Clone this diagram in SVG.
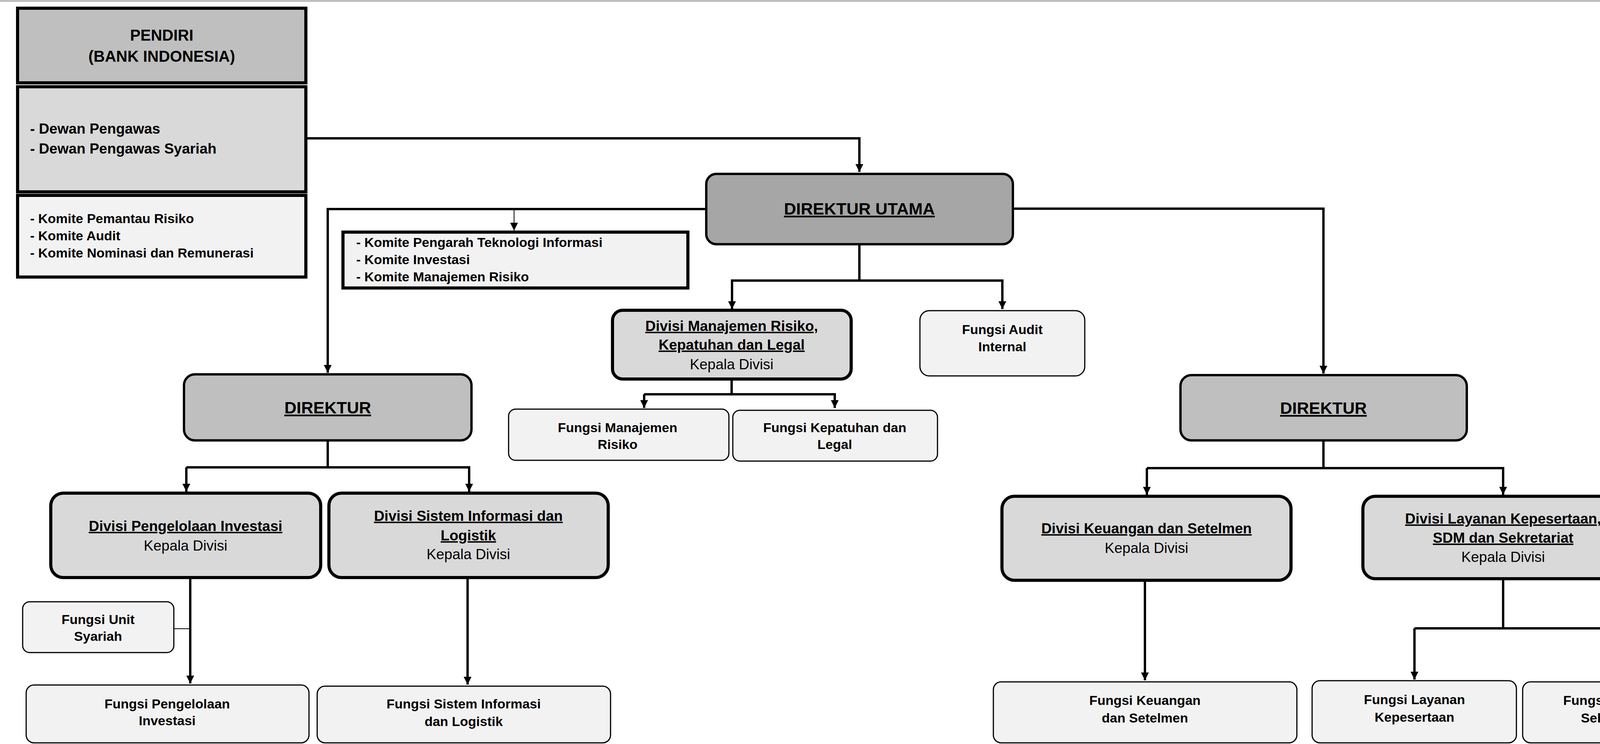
<svg xmlns="http://www.w3.org/2000/svg" width="4377" height="1904" viewBox="0 0 4377 1904">
<style>
text{font-family:"Liberation Sans",Arial,sans-serif;text-anchor:middle;fill:#000}
.b{font-weight:bold}
.u{text-decoration:underline}
.l{text-anchor:start}
.sq{stroke:#000;stroke-width:8}
.dv{fill:#d9d9d9;stroke:#000;stroke-width:8}
.dr{fill:#bfbfbf;stroke:#000;stroke-width:6}
.fg{fill:#f2f2f2;stroke:#000;stroke-width:3}
.c{fill:none;stroke:#000;stroke-width:6}
.t{fill:none;stroke:#000;stroke-width:2}
</style>
<defs>
<marker id="a" viewBox="0 0 10 10" refX="10" refY="5" markerWidth="5" markerHeight="6" markerUnits="userSpaceOnUse" orient="auto" overflow="visible"><path d="M0,0 L10,5 L0,10 z" fill="#000" transform="scale(1)"/></marker>
<marker id="A" viewBox="0 0 10 10" refX="10" refY="5" markerWidth="30" markerHeight="20" markerUnits="userSpaceOnUse" orient="auto"><path d="M0,0 L10,5 L0,10 z" fill="#000"/></marker>
</defs>
<rect width="4377" height="1904" fill="#fff"/>
<rect x="0" y="0" width="4168" height="5" fill="#c0c0c0"/>

<g id="connectors">
<path class="c" d="M783,354 H2200 V440" marker-end="url(#A)"/>
<path class="c" d="M1808,535 H839 V954" marker-end="url(#A)"/>
<path class="t" d="M1316,535 V590" marker-end="url(#A)"/>
<path class="c" d="M2593,534 H3388 V956" marker-end="url(#A)"/>
<path class="c" d="M2200,625 V718"/>
<path class="c" d="M1874,791 V718 H2566 V791" marker-end="url(#A)"/>
<path class="c" d="M1874,718 V791" marker-end="url(#A)"/>
<path class="c" d="M1873,970 V1009"/>
<path class="c" d="M1649,1009 H2137 V1044" marker-end="url(#A)"/>
<path class="c" d="M1649,1009 V1044" marker-end="url(#A)"/>
<path class="c" d="M839,1127 V1196"/>
<path class="c" d="M477,1196 H1201 V1258" marker-end="url(#A)"/>
<path class="c" d="M477,1196 V1258" marker-end="url(#A)"/>
<path class="c" d="M487,1478 V1749" marker-end="url(#A)"/>
<path class="t" d="M445,1609 H487"/>
<path class="c" d="M1197,1478 V1752" marker-end="url(#A)"/>
<path class="c" d="M3388,1127 V1198"/>
<path class="c" d="M2936,1198 H3848 V1266" marker-end="url(#A)"/>
<path class="c" d="M2936,1198 V1266" marker-end="url(#A)"/>
<path class="c" d="M2931,1485 V1741" marker-end="url(#A)"/>
<path class="c" d="M3848,1481 V1608"/>
<path class="c" d="M3621,1608 H4136 V1741" marker-end="url(#A)"/>
<path class="c" d="M3621,1608 V1739" marker-end="url(#A)"/>
</g>

<g id="pendiri"><rect x="45" y="21" width="738" height="191" fill="#bfbfbf" class="sq"/>
<text x="414" y="104" class="b" font-size="40">PENDIRI</text>
<text x="414" y="158" class="b" font-size="40">(BANK INDONESIA)</text></g>

<g id="dewan"><rect x="45" y="222" width="738" height="269" fill="#d9d9d9" class="sq"/>
<text x="77" y="342" class="b l" font-size="37">- Dewan Pengawas</text>
<text x="77" y="393" class="b l" font-size="37">- Dewan Pengawas Syariah</text></g>

<g id="komite1"><rect x="45" y="500" width="738" height="209" fill="#f2f2f2" class="sq"/>
<text x="77" y="571" class="b l" font-size="34">- Komite Pemantau Risiko</text>
<text x="77" y="615" class="b l" font-size="34">- Komite Audit</text>
<text x="77" y="659" class="b l" font-size="34">- Komite Nominasi dan Remunerasi</text></g>

<g id="komite2"><rect x="878" y="594" width="883" height="143" fill="#f2f2f2" class="sq"/>
<text x="912" y="632" class="b l" font-size="34">- Komite Pengarah Teknologi Informasi</text>
<text x="912" y="676" class="b l" font-size="34">- Komite Investasi</text>
<text x="912" y="720" class="b l" font-size="34">- Komite Manajemen Risiko</text></g>

<g id="dirut"><rect x="1808" y="445" width="785" height="180" rx="26" fill="#a6a6a6" stroke="#000" stroke-width="6"/>
<text x="2200" y="549" class="b u" font-size="43">DIREKTUR UTAMA</text></g>

<g id="divmr"><rect x="1568" y="794" width="611" height="176" rx="26" class="dv"/>
<text x="1873" y="847" class="b u" font-size="37">Divisi Manajemen Risiko,</text>
<text x="1873" y="895" class="b u" font-size="37">Kepatuhan dan Legal</text>
<text x="1873" y="945" font-size="37">Kepala Divisi</text></g>

<g id="audit"><rect x="2355" y="795" width="422" height="167" rx="24" class="fg"/>
<text x="2566" y="855" class="b" font-size="34">Fungsi Audit</text>
<text x="2566" y="899" class="b" font-size="34">Internal</text></g>

<g id="fmr"><rect x="1302" y="1047" width="564" height="131" rx="18" class="fg"/>
<text x="1581" y="1106" class="b" font-size="34">Fungsi Manajemen</text>
<text x="1581" y="1149" class="b" font-size="34">Risiko</text></g>

<g id="fkl"><rect x="1876" y="1050" width="524" height="130" rx="18" class="fg"/>
<text x="2137" y="1106" class="b" font-size="34">Fungsi Kepatuhan dan</text>
<text x="2137" y="1149" class="b" font-size="34">Legal</text></g>

<g id="dir1"><rect x="471" y="958" width="736" height="169" rx="28" class="dr"/>
<text x="839" y="1058" class="b u" font-size="43">DIREKTUR</text></g>

<g id="dpi"><rect x="130" y="1262" width="691" height="216" rx="32" class="dv"/>
<text x="475" y="1359" class="b u" font-size="37">Divisi Pengelolaan Investasi</text>
<text x="475" y="1409" font-size="37">Kepala Divisi</text></g>

<g id="dsil"><rect x="842" y="1262" width="715" height="216" rx="32" class="dv"/>
<text x="1199" y="1333" class="b u" font-size="37">Divisi Sistem Informasi dan</text>
<text x="1199" y="1383" class="b u" font-size="37">Logistik</text>
<text x="1199" y="1431" font-size="37">Kepala Divisi</text></g>

<g id="fus"><rect x="58" y="1540" width="387" height="130" rx="18" class="fg"/>
<text x="251" y="1597" class="b" font-size="34">Fungsi Unit</text>
<text x="251" y="1640" class="b" font-size="34">Syariah</text></g>

<g id="fpi"><rect x="67" y="1753" width="724" height="148" rx="20" class="fg"/>
<text x="428" y="1813" class="b" font-size="34">Fungsi Pengelolaan</text>
<text x="428" y="1856" class="b" font-size="34">Investasi</text></g>

<g id="fsil"><rect x="812" y="1756" width="751" height="145" rx="20" class="fg"/>
<text x="1187" y="1813" class="b" font-size="34">Fungsi Sistem Informasi</text>
<text x="1187" y="1858" class="b" font-size="34">dan Logistik</text></g>

<g id="dir2"><rect x="3022" y="960" width="733" height="167" rx="28" class="dr"/>
<text x="3388" y="1059" class="b u" font-size="43">DIREKTUR</text></g>

<g id="dks"><rect x="2565" y="1270" width="740" height="215" rx="32" class="dv"/>
<text x="2935" y="1365" class="b u" font-size="37">Divisi Keuangan dan Setelmen</text>
<text x="2935" y="1415" font-size="37">Kepala Divisi</text></g>

<g id="dlk"><rect x="3489" y="1270" width="719" height="211" rx="32" class="dv"/>
<text x="3848" y="1340" class="b u" font-size="37">Divisi Layanan Kepesertaan,</text>
<text x="3848" y="1389" class="b u" font-size="37">SDM dan Sekretariat</text>
<text x="3848" y="1438" font-size="37">Kepala Divisi</text></g>

<g id="fks"><rect x="2543" y="1745" width="777" height="156" rx="20" class="fg"/>
<text x="2931" y="1804" class="b" font-size="34">Fungsi Keuangan</text>
<text x="2931" y="1849" class="b" font-size="34">dan Setelmen</text></g>

<g id="flk"><rect x="3359" y="1742" width="523" height="159" rx="20" class="fg"/>
<text x="3621" y="1802" class="b" font-size="34">Fungsi Layanan</text>
<text x="3621" y="1847" class="b" font-size="34">Kepesertaan</text></g>

<g id="fsdm"><rect x="3898" y="1745" width="474" height="156" rx="20" class="fg"/>
<text x="4135" y="1804" class="b" font-size="34">Fungsi SDM dan</text>
<text x="4135" y="1849" class="b" font-size="34">Sekretariat</text></g>
</svg>
